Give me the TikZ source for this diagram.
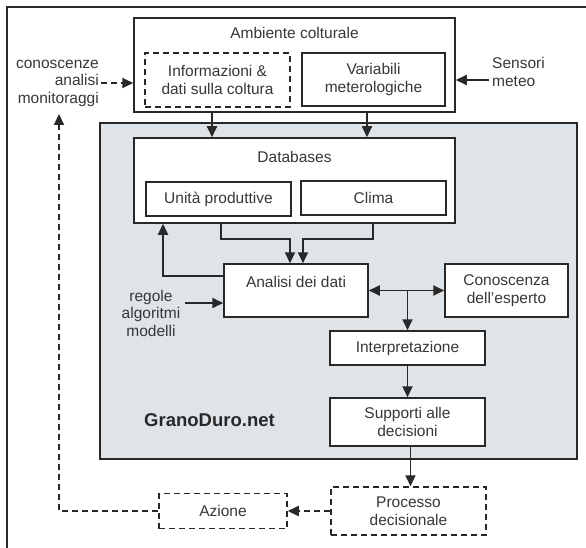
\documentclass[tikz,border=0pt]{standalone}
\usepackage{fontspec}
\setmainfont{Liberation Sans}
\usetikzlibrary{arrows.meta}
\definecolor{lc}{RGB}{40,40,40}
\definecolor{tc}{RGB}{55,55,55}
\definecolor{pf}{RGB}{223,228,232}
\newcommand{\txtf}{\fontsize{15.5}{17.5}\selectfont}
\begin{document}
\begin{tikzpicture}[x=1pt,y=-1pt,
  box/.style={draw=lc,line width=1.5pt,fill=white,inner sep=0pt,align=center,font=\txtf,text=tc},
  dbox/.style={box,dash pattern=on 6pt off 4pt},
  lab/.style={font=\txtf,text=tc,inner sep=0pt},
  arr/.style={draw=lc,line width=1.8pt,-{Triangle[length=11pt,width=10pt]}},
  darr/.style={arr,dash pattern=on 6pt off 4pt},
  dblarr/.style={draw=lc,line width=1.8pt,{Triangle[length=11pt,width=10pt]}-{Triangle[length=11pt,width=10pt]}},
  framel/.style={draw=lc,line width=1.5pt}]
\useasboundingbox (0,0) rectangle (586,548);
\draw[framel] (586,7) -- (7,7) -- (7,548);

% top block
\node[box,minimum width=321pt,minimum height=94pt] (amb) at (294.5,65) {};
\node[lab] (ambt) at (294.5,33) {Ambiente colturale};
\node[dbox,minimum width=145pt,minimum height=54pt] (info) at (217.5,80) {Informazioni \&\\dati sulla coltura};
\node[box,minimum width=143pt,minimum height=53pt] (var) at (373.5,79.5) {Variabili\\meterologiche};

\node[lab,align=right,anchor=east] (know) at (99,83) {conoscenze\\analisi\\monitoraggi};
\node[lab,align=left,anchor=west] (sens) at (492,72) {Sensori\\meteo};

% panel
\node[draw=lc,line width=1.5pt,fill=pf,minimum width=477pt,minimum height=336pt,inner sep=0pt] (panel) at (338.5,291) {};
\node[font=\fontsize{18.5}{20}\selectfont\bfseries,text=lc,inner sep=0pt] (gd) at (209.5,420) {GranoDuro.net};

\node[box,minimum width=321pt,minimum height=85pt] (db) at (294.5,180.5) {};
\node[lab] (dbt) at (294.5,157) {Databases};
\node[box,minimum width=145pt,minimum height=34pt] (unita) at (218.5,199) {Unità produttive};
\node[box,minimum width=145pt,minimum height=34pt] (clima) at (373.5,198) {Clima};

\node[box,minimum width=144pt,minimum height=53pt] (an) at (296,290.5) {};
\node[lab] (ant) at (296,282) {Analisi dei dati};
\node[box,minimum width=123pt,minimum height=53pt] (cono) at (506.5,290.5) {Conoscenza\\dell'esperto};
\node[lab,align=center] (reg) at (151,313) {regole\\algoritmi\\modelli};

\node[box,minimum width=155pt,minimum height=34pt] (interp) at (407.5,348) {Interpretazione};
\node[box,minimum width=155pt,minimum height=48pt] (supp) at (407.5,422) {Supporti alle\\decisioni};

\node[dbox,minimum width=155pt,minimum height=48pt] (proc) at (408.5,511) {Processo\\decisionale};
\node[dbox,minimum width=128pt,minimum height=35pt] (az) at (223,511) {Azione};

% connectors
\coordinate (xa) at (212,0);
\coordinate (xb) at (367,0);
\draw[arr] (xa |- amb.south) -- (xa |- db.north);
\draw[arr] (xb |- amb.south) -- (xb |- db.north);

\draw[darr] ([xshift=2pt]know.east) -- (know.east -| amb.west);
\draw[arr] ([xshift=-3pt,yshift=-8pt]sens.west) -- ([yshift=-8pt]sens.west -| amb.east);

\coordinate (m1) at (221,239);
\coordinate (m2) at (373,239);
\draw[arr] (m1 |- db.south) -- (m1) -| ([xshift=-6pt]an.north);
\draw[arr] (m2 |- db.south) -- (m2) -| ([xshift=7pt]an.north);

\coordinate (fb) at (163,0);
\draw[arr] ([yshift=14.5pt]an.west) -| (fb |- db.south);

\draw[arr] ([xshift=5pt,yshift=10pt]reg.east) -- ([yshift=10pt]reg.east -| an.west);

\draw[dblarr] (an.east) -- (cono.west);
\coordinate (br) at (407.5,290.5);
\draw[arr] (br) -- (interp.north);
\draw[arr] (interp.south) -- (supp.north);
\draw[arr] ([xshift=3pt]supp.south) -- ([xshift=3pt]supp.south |- proc.north);

\draw[darr] (proc.west) -- (az.east);
\coordinate (lp) at (59,114);
\draw[darr] (az.west) -| (lp);
\end{tikzpicture}
\end{document}
